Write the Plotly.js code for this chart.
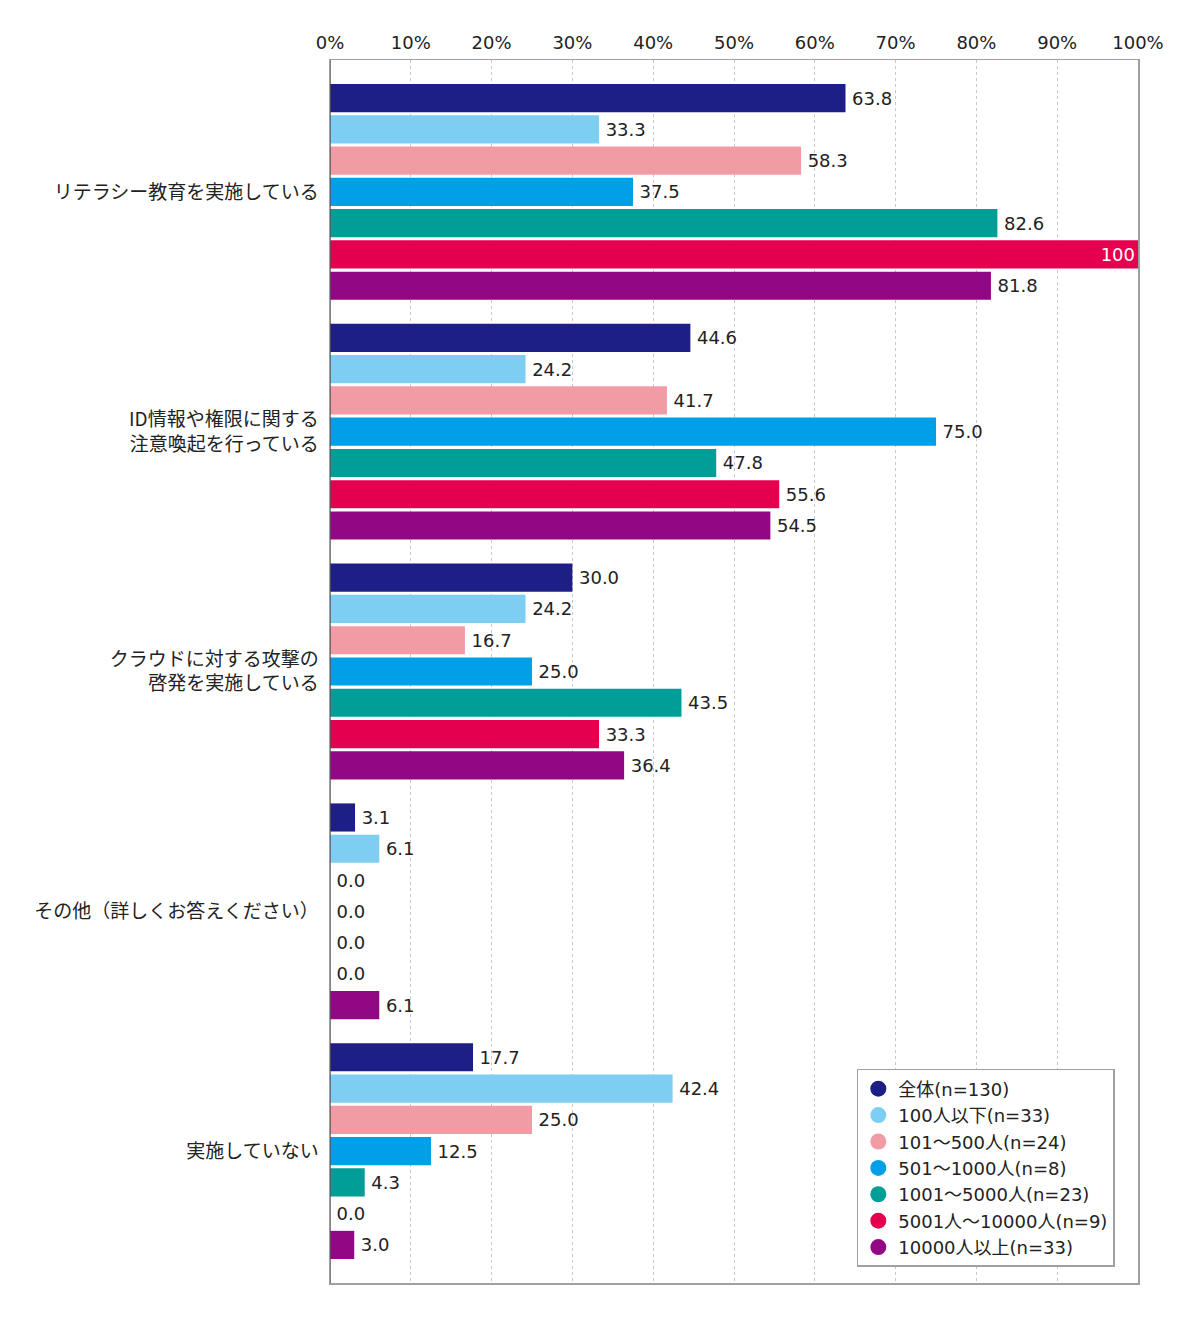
<!DOCTYPE html>
<html>
<head>
<meta charset="utf-8">
<script src="https://cdn.plot.ly/plotly-3.0.1.min.js"></script>
<style>
  body { margin: 0; background: #fff; }
  #chart { width: 1200px; height: 1323px; }
</style>
</head>
<body>
<div id="chart"></div>
<script>
// categories, top to bottom
var categories = [
    'リテラシー教育を実施している',
    'ID情報や権限に関する<br>注意喚起を行っている',
    'クラウドに対する攻撃の<br>啓発を実施している',
    'その他（詳しくお答えください）',
    '実施していない'
];

var seriesNames = [
    '全体(n=130)',
    '100人以下(n=33)',
    '101～500人(n=24)',
    '501～1000人(n=8)',
    '1001～5000人(n=23)',
    '5001人～10000人(n=9)',
    '10000人以上(n=33)'
];

var zentai       = [63.8, 44.6, 30.0, 3.1, 17.7];
var under100     = [33.3, 24.2, 24.2, 6.1, 42.4];
var s101to500    = [58.3, 41.7, 16.7, 0.0, 25.0];
var s501to1000   = [37.5, 75.0, 25.0, 0.0, 12.5];
var s1001to5000  = [82.6, 47.8, 43.5, 0.0, 4.3];
var s5001to10000 = [100, 55.6, 33.3, 0.0, 0.0];
var over10000    = [81.8, 54.5, 36.4, 6.1, 3.0];

var seriesValues = [zentai, under100, s101to500, s501to1000, s1001to5000, s5001to10000, over10000];

var colors = ['#1e1e87', '#7ecef4', '#f19ca5', '#00a0e9', '#009e96', '#e5004f', '#920783'];

var JP_FONT = '"Noto Sans CJK JP", "Noto Sans", sans-serif';
var NUM_FONT = '"DejaVu Sans", "Noto Sans CJK JP", sans-serif';

var traces = [];

// the bars themselves
seriesValues.forEach(function (vals, i) {
    traces.push({
        type: 'bar',
        orientation: 'h',
        name: seriesNames[i],
        y: categories,
        x: vals,
        text: vals.map(function (v) { return v === 100 ? '100' : v.toFixed(1); }),
        texttemplate: vals.map(function (v) { return v >= 100 ? '%{text}' : '\u2009%{text}'; }),
        textposition: vals.map(function (v) { return v >= 100 ? 'inside' : 'outside'; }),
        insidetextanchor: 'end',
        constraintext: 'none',
        insidetextfont: { color: '#ffffff', size: 18, family: NUM_FONT },
        outsidetextfont: { color: '#222222', size: 18, family: NUM_FONT },
        cliponaxis: false,
        marker: { color: colors[i] },
        showlegend: false,
        hoverinfo: 'skip'
    });
});

// legend entries with round markers
seriesNames.forEach(function (name, i) {
    traces.push({
        type: 'scatter',
        mode: 'markers',
        name: name,
        x: [null],
        y: [null],
        marker: { color: colors[i], size: 16, symbol: 'circle' },
        showlegend: true,
        hoverinfo: 'skip'
    });
});

var layout = {
    width: 1200,
    height: 1323,
    paper_bgcolor: 'white',
    plot_bgcolor: 'white',
    font: { family: JP_FONT, size: 18, color: '#222222' },
    margin: { l: 330, r: 62, t: 60, b: 40, pad: 0 },
    barmode: 'group',
    bargap: 0.087,
    bargroupgap: 0.1,
    showlegend: true,
    legend: {
        x: 0.652,
        y: 0.175,
        xanchor: 'left',
        yanchor: 'top',
        bgcolor: 'white',
        bordercolor: '#a0a0a0',
        borderwidth: 1.5,
        font: { family: NUM_FONT, size: 18, color: '#222222' },
        itemwidth: 30,
        traceorder: 'normal'
    },
    xaxis: {
        side: 'top',
        range: [0, 100],
        dtick: 10,
        tick0: 0,
        ticksuffix: '%',
        ticks: '',
        ticklabelstandoff: 2,
        showgrid: true,
        gridcolor: '#c8c8c8',
        griddash: 'dot',
        gridwidth: 1,
        zeroline: false,
        showline: true,
        mirror: true,
        linecolor: '#a0a0a0',
        linewidth: 1.5,
        tickfont: { family: NUM_FONT, size: 18, color: '#222222' },
        fixedrange: true
    },
    yaxis: {
        type: 'category',
        range: [4.55, -0.55],
        ticks: '',
        ticklabelstandoff: 6,
        showgrid: false,
        zeroline: false,
        showline: true,
        mirror: true,
        linecolor: '#a0a0a0',
        linewidth: 1.5,
        tickfont: { family: JP_FONT, size: 19, color: '#222222' },
        fixedrange: true
    },
    shapes: [{
        // darker left axis line
        type: 'line', xref: 'x', yref: 'paper',
        x0: 0, x1: 0, y0: 0, y1: 1,
        line: { color: '#555555', width: 1.5 }
    }]
};

Plotly.newPlot('chart', traces, layout, { displayModeBar: false, staticPlot: true });
</script>
</body>
</html>
